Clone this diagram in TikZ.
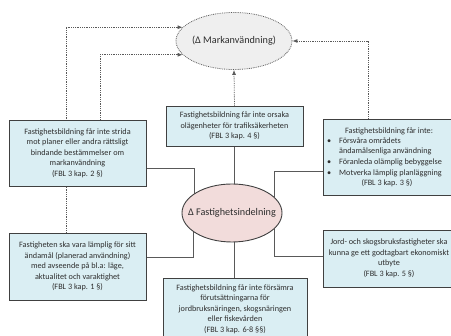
\documentclass[tikz,border=0pt]{standalone}
\usepackage{fontspec}
\setmainfont{Carlito}
\usetikzlibrary{shapes.geometric,arrows.meta,backgrounds}
\definecolor{boxfill}{HTML}{DAEEF3}
\definecolor{boxline}{HTML}{404040}
\definecolor{pinkfill}{HTML}{F2DCDB}
\definecolor{grayfill}{HTML}{EFEFEF}
\definecolor{txtcol}{HTML}{2E2E2E}
\definecolor{linkcol}{HTML}{595959}
\begin{document}
\begin{tikzpicture}[x=1pt,y=-1pt,
  txt/.style={font=\fontsize{8.2}{10.6}\selectfont, text=txtcol, align=center, inner sep=0pt},
  bigtxt/.style={font=\fontsize{10.2}{12}\selectfont, text=txtcol, inner sep=0pt},
  infobox/.style={txt, draw=boxline, line width=0.9pt, fill=boxfill, rectangle},
  link/.style={draw=linkcol, line width=0.9pt},
  dotlink/.style={draw=gray!70!black, line width=0.8pt, densely dotted, -{Latex[length=5pt,width=4pt]}},
]
\useasboundingbox (0,0) rectangle (451,336);

% ellipses
\node[ellipse, draw=gray!70!black, densely dotted, line width=0.8pt, fill=grayfill,
      minimum width=116pt, minimum height=57pt, inner sep=0pt] (mk) at (234,41) {};
\node[bigtxt] (mkt) at (mk.center) {(Δ Markanvändning)};
\node[ellipse, draw=boxline, line width=0.9pt, fill=pinkfill,
      minimum width=100pt, minimum height=58pt, inner sep=0pt] (mf) at (232,213) {};
\node[bigtxt] (mft) at (mf.center) {Δ Fastighetsindelning};

% boxes
\node[infobox, minimum width=137pt, minimum height=40pt] (tb) at (234.5,126)
  {Fastighetsbildning får inte orsaka\\olägenheter för trafiksäkerheten\\(FBL 3 kap. 4 §)};
\node[infobox, minimum width=137pt, minimum height=66pt] (lb) at (77.5,153)
  {Fastighetsbildning får inte strida\\mot planer eller andra rättsligt\\bindande bestämmelser om\\markanvändning\\(FBL 3 kap. 2 §)};
\node[infobox, minimum width=132pt, minimum height=76pt] (rb) at (389,157) {};
\node[txt] (rh) at (389,131) {Fastighetsbildning får inte:};
\node[txt, align=left, anchor=west] (rl) at (327,157)
  {\makebox[12pt][l]{\textbullet}Försvåra områdets\\
   \hspace*{12pt}ändamålsenliga användning\\
   \makebox[12pt][l]{\textbullet}Föranleda olämplig bebyggelse\\
   \makebox[12pt][l]{\textbullet}Motverka lämplig planläggning};
\node[txt] (rf) at (387,183) {(FBL 3 kap. 3 §)};
\node[infobox, minimum width=137pt, minimum height=67pt] (llb) at (77.5,266.5)
  {Fastigheten ska vara lämplig för sitt\\ändamål (planerad användning)\\med avseende på bl.a: läge,\\aktualitet och varaktighet\\(FBL 3 kap. 1 §)};
\node[infobox, minimum width=132pt, minimum height=57pt] (lrb) at (389,258.5)
  {Jord- och skogsbruksfastigheter ska\\kunna ge ett godtagbart ekonomiskt\\utbyte\\(FBL 3 kap. 5 §)};
\node[infobox, minimum width=144pt, minimum height=62pt] (bb) at (235,309)
  {Fastighetsbildning får inte försämra\\förutsättningarna för\\jordbruksnäringen, skogsnäringen\\eller fiskevården\\(FBL 3 kap. 6-8 §§)};

\coordinate (xa) at (66,0);
\coordinate (xb) at (100,0);
\coordinate (xc) at (368,0);
\coordinate (yl) at (0,168);
\coordinate (yr) at (0,171);
\coordinate (yll) at (0,257);
\coordinate (ylr) at (0,256);

\begin{pgfonlayer}{background}
  % solid connectors
  \draw[link] (tb.south) -- (tb.south |- mf.north);
  \draw[link] (tb.south |- mf.south) -- (tb.south |- bb.north);
  \draw[link] (lb.east |- yl) -| (mf.153.7);
  \draw[link] (rb.west |- yr) -| (mf.20.5);
  \draw[link] (llb.east |- yll) -| (mf.206.3);
  \draw[link] (lrb.west |- ylr) -| (mf.339.5);
  % dotted arrows
  \draw[dotlink] (llb.north -| xa) |- (mk.165.9);
  \draw[dotlink] (lb.north -| xb) |- (mk.195.5);
  \draw[dotlink] (tb.north) -- (mk.south);
  \draw[dotlink] (rb.north -| xc) |- (mk.east);
\end{pgfonlayer}
\end{tikzpicture}
\end{document}
